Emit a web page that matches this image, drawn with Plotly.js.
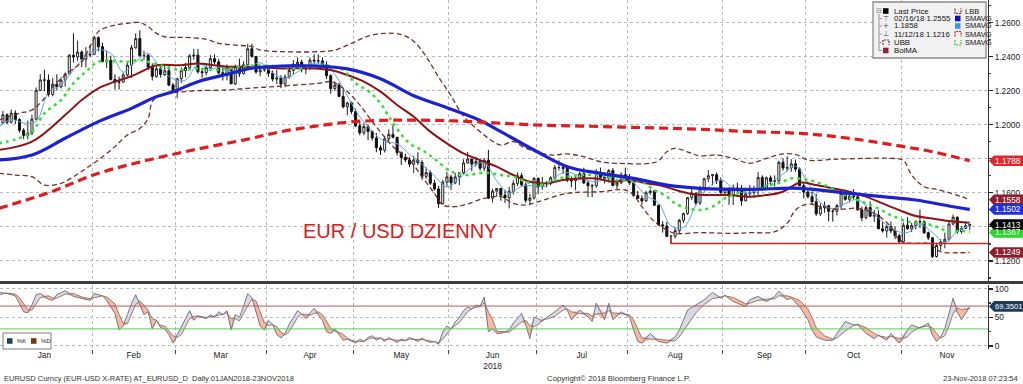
<!DOCTYPE html>
<html><head><meta charset="utf-8">
<script src="https://cdn.plot.ly/plotly-3.0.1.min.js"></script>
<style>html,body{margin:0;padding:0;background:#fff;}#chart{width:1023px;height:384px;}</style>
</head><body><div id="chart"></div>
<script>
// ---------- DATA (trading-day index 0 = 01 Jan 2018) ----------
const monthNames = ['Jan','Feb','Mar','Apr','May','Jun','Jul','Aug','Sep','Oct','Nov'];
const monthStart = [0,23,43,65,86,109,130,152,175,195,218];
const monthLen   = [23,20,22,21,23,21,22,23,20,23,22];
const yearLabel = '2018';

const open = [
1.2005,1.2010,1.2058,1.2014,1.2068,1.2030,1.1967,1.1937,1.1950,1.2033,1.2202,1.2263,1.2262,1.2178,1.2238,1.2222,1.2262,1.2298,1.2408,1.2398,1.2427,1.2385,1.2409,
1.2414,1.2512,1.2458,1.2371,1.2377,1.2266,1.2250,1.2250,1.2292,1.2350,1.2452,1.2506,1.2406,1.2408,1.2338,1.2284,1.2329,1.2295,1.2317,1.2233,
1.2194,1.2270,1.2318,1.2336,1.2405,1.2409,1.2311,1.2306,1.2336,1.2388,1.2369,1.2305,1.2288,1.2338,1.2240,1.2340,1.2300,1.2352,1.2446,1.2401,1.2310,1.2322,
1.2324,1.2302,1.2268,1.2275,1.2239,1.2281,1.2319,1.2356,1.2368,1.2326,1.2330,1.2379,1.2375,1.2375,1.2350,1.2288,1.2212,1.2233,1.2166,1.2105,1.2128,
1.2078,1.1993,1.1952,1.1989,1.1960,1.1922,1.1865,1.1850,1.1917,1.1943,1.1926,1.1836,1.1807,1.1793,1.1768,1.1792,1.1778,1.1696,1.1719,1.1656,1.1622,1.1536,1.1663,
1.1693,1.1658,1.1693,1.1717,1.1775,1.1798,1.1768,1.1784,1.1744,1.1791,1.1568,1.1609,1.1625,1.1586,1.1570,1.1608,1.1655,1.1700,1.1646,1.1555,1.1569,
1.1684,1.1635,1.1657,1.1655,1.1688,1.1748,1.1748,1.1743,1.1673,1.1670,1.1685,1.1712,1.1658,1.1641,1.1641,1.1720,1.1691,1.1684,1.1731,1.1643,1.1658,1.1705,
1.1691,1.1658,1.1583,1.1567,1.1552,1.1600,1.1610,1.1526,1.1411,1.1404,1.1343,1.1344,1.1377,1.1438,1.1477,1.1571,1.1597,1.1540,1.1623,1.1682,1.1700,1.1706,1.1670,
1.1601,1.1622,1.1583,1.1628,1.1624,1.1553,1.1594,1.1600,1.1625,1.1690,1.1625,1.1688,1.1667,1.1671,1.1779,1.1745,1.1747,1.1770,1.1739,1.1641,
1.1604,1.1577,1.1547,1.1476,1.1512,1.1524,1.1491,1.1491,1.1524,1.1596,1.1561,1.1580,1.1576,1.1500,1.1453,1.1513,1.1462,1.1469,1.1388,1.1375,1.1401,1.1376,1.1347,
1.1312,1.1409,1.1388,1.1407,1.1430,1.1429,1.1365,1.1335,1.1225,1.1290,1.1310,1.1327,1.1416,1.1456,1.1372,1.1390,1.1406];
const high = [
1.2025,1.2081,1.2066,1.2089,1.2084,1.2038,1.1980,1.2024,1.2059,1.2219,1.2297,1.2323,1.2296,1.2274,1.2296,1.2279,1.2307,1.2415,1.2537,1.2494,1.2437,1.2456,1.2469,
1.2523,1.2519,1.2482,1.2434,1.2406,1.2296,1.2283,1.2307,1.2369,1.2469,1.2537,1.2555,1.2435,1.2414,1.2361,1.2354,1.2346,1.2355,1.2354,1.2244,
1.2275,1.2336,1.2363,1.2414,1.2446,1.2446,1.2335,1.2350,1.2410,1.2413,1.2385,1.2337,1.2354,1.2344,1.2353,1.2388,1.2373,1.2476,1.2476,1.2404,1.2340,1.2339,
1.2346,1.2318,1.2323,1.2291,1.2295,1.2334,1.2380,1.2396,1.2382,1.2346,1.2396,1.2414,1.2413,1.2396,1.2372,1.2296,1.2255,1.2245,1.2210,1.2135,1.2136,
1.2094,1.2021,1.2009,1.2000,1.1966,1.1951,1.1880,1.1935,1.1973,1.1997,1.1928,1.1843,1.1829,1.1810,1.1816,1.1837,1.1791,1.1749,1.1731,1.1676,1.1640,1.1675,1.1723,
1.1705,1.1717,1.1718,1.1796,1.1840,1.1799,1.1810,1.1796,1.1805,1.1852,1.1624,1.1625,1.1629,1.1617,1.1635,1.1673,1.1720,1.1717,1.1661,1.1593,1.1692,
1.1691,1.1693,1.1667,1.1697,1.1763,1.1791,1.1769,1.1760,1.1695,1.1694,1.1722,1.1747,1.1670,1.1652,1.1738,1.1748,1.1719,1.1739,1.1745,1.1670,1.1720,1.1747,
1.1710,1.1662,1.1611,1.1584,1.1612,1.1620,1.1614,1.1530,1.1432,1.1430,1.1353,1.1397,1.1446,1.1483,1.1573,1.1623,1.1601,1.1640,1.1688,1.1733,1.1710,1.1719,1.1690,
1.1626,1.1634,1.1647,1.1660,1.1644,1.1608,1.1646,1.1641,1.1721,1.1702,1.1695,1.1701,1.1702,1.1788,1.1803,1.1815,1.1797,1.1795,1.1749,1.1655,
1.1622,1.1607,1.1594,1.1538,1.1548,1.1527,1.1502,1.1534,1.1608,1.1611,1.1599,1.1621,1.1580,1.1519,1.1527,1.1549,1.1499,1.1496,1.1431,1.1414,1.1431,1.1400,1.1358,
1.1425,1.1456,1.1423,1.1438,1.1500,1.1437,1.1372,1.1340,1.1305,1.1327,1.1366,1.1429,1.1472,1.1461,1.1403,1.1428,1.1416];
const low = [
1.1996,1.2004,1.2004,1.2007,1.2004,1.1954,1.1916,1.1915,1.1939,1.2025,1.2197,1.2197,1.2165,1.2167,1.2202,1.2213,1.2224,1.2298,1.2365,1.2373,1.2339,1.2336,1.2397,
1.2414,1.2432,1.2367,1.2334,1.2260,1.2207,1.2206,1.2248,1.2284,1.2274,1.2447,1.2402,1.2381,1.2322,1.2260,1.2275,1.2277,1.2286,1.2226,1.2187,
1.2155,1.2245,1.2278,1.2320,1.2382,1.2300,1.2275,1.2291,1.2323,1.2357,1.2297,1.2260,1.2261,1.2240,1.2233,1.2281,1.2294,1.2350,1.2394,1.2300,1.2285,1.2310,
1.2282,1.2254,1.2239,1.2215,1.2220,1.2270,1.2295,1.2338,1.2308,1.2297,1.2321,1.2347,1.2355,1.2338,1.2268,1.2183,1.2198,1.2164,1.2096,1.2055,1.2063,
1.1985,1.1938,1.1938,1.1910,1.1907,1.1838,1.1822,1.1836,1.1902,1.1920,1.1818,1.1763,1.1780,1.1750,1.1716,1.1763,1.1676,1.1681,1.1646,1.1613,1.1510,1.1530,1.1634,
1.1617,1.1650,1.1645,1.1707,1.1771,1.1727,1.1754,1.1730,1.1727,1.1563,1.1542,1.1576,1.1553,1.1540,1.1508,1.1589,1.1640,1.1634,1.1541,1.1527,1.1560,
1.1592,1.1618,1.1632,1.1643,1.1679,1.1730,1.1714,1.1662,1.1632,1.1615,1.1676,1.1650,1.1575,1.1574,1.1630,1.1684,1.1654,1.1660,1.1637,1.1620,1.1650,1.1683,
1.1646,1.1577,1.1563,1.1529,1.1545,1.1587,1.1526,1.1405,1.1366,1.1340,1.1301,1.1332,1.1359,1.1422,1.1470,1.1556,1.1528,1.1527,1.1608,1.1663,1.1644,1.1651,1.1586,
1.1588,1.1530,1.1528,1.1590,1.1524,1.1549,1.1571,1.1569,1.1586,1.1611,1.1621,1.1642,1.1636,1.1659,1.1730,1.1725,1.1723,1.1723,1.1640,1.1567,
1.1566,1.1527,1.1464,1.1463,1.1482,1.1432,1.1430,1.1466,1.1502,1.1553,1.1543,1.1560,1.1494,1.1432,1.1445,1.1456,1.1429,1.1387,1.1366,1.1336,1.1361,1.1327,1.1301,
1.1305,1.1383,1.1369,1.1384,1.1394,1.1357,1.1322,1.1216,1.1218,1.1260,1.1273,1.1316,1.1408,1.1358,1.1359,1.1385,1.1380];
const close = [
1.2010,1.2058,1.2014,1.2068,1.2030,1.1967,1.1937,1.1950,1.2033,1.2202,1.2263,1.2262,1.2178,1.2238,1.2222,1.2262,1.2298,1.2408,1.2398,1.2427,1.2385,1.2409,1.2414,
1.2512,1.2458,1.2371,1.2377,1.2266,1.2250,1.2250,1.2292,1.2350,1.2452,1.2506,1.2406,1.2408,1.2338,1.2284,1.2329,1.2295,1.2317,1.2233,1.2194,
1.2270,1.2318,1.2336,1.2405,1.2409,1.2311,1.2306,1.2336,1.2388,1.2369,1.2305,1.2288,1.2338,1.2240,1.2340,1.2300,1.2352,1.2446,1.2401,1.2310,1.2322,1.2324,
1.2302,1.2268,1.2275,1.2239,1.2281,1.2319,1.2356,1.2368,1.2326,1.2330,1.2379,1.2375,1.2375,1.2350,1.2288,1.2212,1.2233,1.2166,1.2105,1.2128,1.2078,
1.1993,1.1952,1.1989,1.1960,1.1922,1.1865,1.1850,1.1917,1.1943,1.1926,1.1836,1.1807,1.1793,1.1768,1.1792,1.1778,1.1696,1.1719,1.1656,1.1622,1.1536,1.1663,1.1693,
1.1658,1.1693,1.1717,1.1775,1.1798,1.1768,1.1784,1.1744,1.1791,1.1568,1.1609,1.1625,1.1586,1.1570,1.1608,1.1655,1.1700,1.1646,1.1555,1.1569,1.1684,
1.1635,1.1657,1.1655,1.1688,1.1748,1.1748,1.1743,1.1673,1.1670,1.1685,1.1712,1.1658,1.1641,1.1641,1.1720,1.1691,1.1684,1.1731,1.1643,1.1658,1.1705,1.1691,
1.1658,1.1583,1.1567,1.1552,1.1600,1.1610,1.1526,1.1411,1.1404,1.1343,1.1344,1.1377,1.1438,1.1477,1.1571,1.1597,1.1540,1.1623,1.1682,1.1700,1.1706,1.1670,1.1601,
1.1622,1.1583,1.1628,1.1624,1.1553,1.1594,1.1600,1.1625,1.1690,1.1625,1.1688,1.1667,1.1671,1.1779,1.1745,1.1747,1.1770,1.1739,1.1641,1.1604,
1.1577,1.1547,1.1476,1.1512,1.1524,1.1491,1.1491,1.1524,1.1596,1.1561,1.1580,1.1576,1.1500,1.1453,1.1513,1.1462,1.1469,1.1388,1.1375,1.1401,1.1376,1.1347,1.1312,
1.1409,1.1388,1.1407,1.1430,1.1429,1.1365,1.1335,1.1225,1.1290,1.1310,1.1327,1.1416,1.1456,1.1372,1.1390,1.1406,1.1413];

// 200-day SMA (red dashed)
const ma200X = [0,12,24,36,48,60,68,76,84,92,100,110,120,130,140,150,160,170,181,193,205,217,225,234];
const ma200  = [1.1508,1.1600,1.1714,1.1792,1.1857,1.1915,1.1959,1.1990,1.2015,1.2025,1.2027,1.2022,1.2010,1.1998,1.1992,1.1986,1.1980,1.1972,1.1959,1.1949,1.1920,1.1875,1.1841,1.1788];
// 50-day SMA (blue)
const ma50X = [0,8,16,24,32,38,42,48,56,60,68,76,84,92,100,108,116,121,129,137,145,153,161,169,181,193,205,213,221,229,234];
const ma50  = [1.1792,1.1822,1.1920,1.2018,1.2096,1.2165,1.2194,1.2253,1.2302,1.2328,1.2345,1.2345,1.2328,1.2270,1.2170,1.2100,1.2025,1.1959,1.1851,1.1753,1.1714,1.1684,1.1645,1.1626,1.1620,1.1626,1.1596,1.1577,1.1557,1.1522,1.1502];
// Bollinger middle (BolMA)
const bolX = [0,8,16,20,24,28,32,36,38,44,48,52,56,60,68,76,80,84,88,92,96,100,104,108,112,116,120,124,128,132,136,140,144,148,152,156,160,164,168,176,181,185,189,193,197,201,205,209,213,217,221,225,229,234];
const bolMA = [1.1851,1.1900,1.2057,1.2145,1.2214,1.2253,1.2286,1.2331,1.2350,1.2350,1.2360,1.2350,1.2341,1.2341,1.2331,1.2331,1.2321,1.2292,1.2253,1.2194,1.2116,1.2047,1.1959,1.1890,1.1831,1.1792,1.1753,1.1704,1.1665,1.1655,1.1675,1.1684,1.1684,1.1665,1.1675,1.1655,1.1640,1.1610,1.1590,1.1586,1.1577,1.1586,1.1606,1.1659,1.1645,1.1626,1.1606,1.1577,1.1537,1.1498,1.1463,1.1449,1.1434,1.1424];
// Upper band
const ubbX = [0,5,8,11,13,16,20,22,24,27,31,34,36,38,40,45,50,53,57,61,63,69,77,81,85,89,93,97,100,103,106,109,112,115,118,121,124,127,133,137,141,145,149,157,159,161,163,167,169,173,177,181,185,189,192,195,201,209,215,218,220,223,226,229,232,234];
const ubb  = [1.2027,1.2067,1.2086,1.2155,1.2223,1.2292,1.2370,1.2459,1.2547,1.2580,1.2596,1.2600,1.2576,1.2537,1.2517,1.2513,1.2502,1.2478,1.2468,1.2459,1.2439,1.2429,1.2429,1.2439,1.2478,1.2521,1.2537,1.2530,1.2490,1.2400,1.2280,1.2170,1.2050,1.1980,1.1920,1.1880,1.1900,1.1861,1.1822,1.1828,1.1812,1.1782,1.1773,1.1773,1.1788,1.1841,1.1861,1.1831,1.1816,1.1822,1.1802,1.1773,1.1802,1.1828,1.1825,1.1792,1.1796,1.1802,1.1802,1.1790,1.1704,1.1635,1.1620,1.1600,1.1577,1.1558];
// Lower band
const lbbX = [0,4,8,11,15,18,21,24,28,31,34,36,37,39,42,48,55,60,64,68,77,80,83,86,91,95,99,102,105,107,110,113,117,121,124,127,130,137,145,151,153,155,158,161,163,169,177,181,187,190,192,195,198,202,207,211,215,217,220,224,227,231,234];
const lbb  = [1.1714,1.1704,1.1694,1.1645,1.1655,1.1694,1.1743,1.1792,1.1871,1.1939,1.1978,1.2037,1.2135,1.2174,1.2188,1.2200,1.2204,1.2214,1.2220,1.2227,1.2243,1.2253,1.2214,1.2145,1.1988,1.1871,1.1792,1.1694,1.1596,1.1528,1.1518,1.1534,1.1567,1.1577,1.1537,1.1528,1.1547,1.1596,1.1606,1.1616,1.1586,1.1518,1.1430,1.1381,1.1361,1.1365,1.1361,1.1365,1.1371,1.1420,1.1498,1.1534,1.1518,1.1502,1.1508,1.1479,1.1400,1.1322,1.1302,1.1302,1.1253,1.1247,1.1249];
// Green dotted SMAVG
const grnX = [0,4,8,11,15,18,21,24,28,31,34,36,40,44,48,52,56,60,67,72,77,80,83,86,89,92,95,99,102,105,109,113,117,121,124,127,130,134,137,141,145,149,153,155,158,161,163,166,169,172,175,178,181,186,189,191,195,199,203,207,211,215,219,223,226,229,232,234];
const grn  = [1.1890,1.1914,1.1959,1.2067,1.2145,1.2243,1.2312,1.2370,1.2374,1.2370,1.2380,1.2370,1.2341,1.2321,1.2331,1.2321,1.2331,1.2345,1.2345,1.2331,1.2351,1.2345,1.2321,1.2243,1.2200,1.2125,1.2010,1.1890,1.1851,1.1800,1.1725,1.1704,1.1718,1.1704,1.1694,1.1665,1.1645,1.1675,1.1694,1.1704,1.1704,1.1675,1.1675,1.1665,1.1616,1.1577,1.1537,1.1508,1.1498,1.1518,1.1567,1.1596,1.1616,1.1645,1.1665,1.1684,1.1675,1.1645,1.1596,1.1557,1.1518,1.1469,1.1430,1.1420,1.1400,1.1371,1.1377,1.1367];
// Light blue short SMAVG
const sbX = [0,3,6,9,12,15,18,21,24,27,30,33,36,39,42,45,48,51,54,57,60,63,66,69,72,75,78,81,84,87,90,93,96,99,102,105,108,111,114,117,120,123,126,129,132,135,138,141,144,147,150,153,156,159,162,165,168,171,174,177,180,183,186,189,192,195,198,201,204,207,210,213,216,219,222,225,228,231,234];
const sb  = [1.1985,1.2030,1.2010,1.2018,1.2190,1.2233,1.2322,1.2405,1.2440,1.2420,1.2310,1.2370,1.2420,1.2330,1.2270,1.2262,1.2355,1.2330,1.2337,1.2302,1.2330,1.2364,1.2305,1.2273,1.2310,1.2352,1.2363,1.2296,1.2169,1.2046,1.1963,1.1901,1.1888,1.1826,1.1767,1.1699,1.1634,1.1684,1.1750,1.1777,1.1671,1.1598,1.1637,1.1642,1.1640,1.1707,1.1716,1.1680,1.1664,1.1693,1.1688,1.1658,1.1583,1.1541,1.1406,1.1396,1.1525,1.1629,1.1676,1.1626,1.1596,1.1618,1.1659,1.1710,1.1756,1.1660,1.1543,1.1506,1.1537,1.1559,1.1496,1.1429,1.1378,1.1366,1.1413,1.1367,1.1306,1.1374,1.1407];
// support line from Aug 15 low
const supportX = [162,162,238.4];
const supportY = [1.1345,1.1301,1.1301];

// Stochastic
const stochX = [0,2,4,5,6,7,8,9,10,12,13,14,16,18,20,22,23,25,26,28,29,30,31,32,33,34,35,36,37,38,39,40,41,42,43,44,45,46,47,48,50,51,52,53,54,55,56,57,58,59,60,61,62,63,64,65,66,67,68,69,70,71,72,73,74,75,76,77,78,79,80,81,82,83,84,85,86,87,88,89,90,91,92,93,94,95,96,97,98,99,100,101,102,103,104,105,106,107,108,109,110,111,112,113,114,115,116,117,118,119,120,121,123,124,126,127,128,129,130,131,132,134,136,137,138,140,142,143,144,146,147,148,150,152,153,154,155,157,159,161,163,164,166,168,170,172,174,175,177,178,180,181,183,185,187,188,190,191,193,195,196,197,199,201,202,204,206,207,209,211,212,214,215,217,219,220,222,224,225,226,227,228,229,230,231,232,234];
const stochK = [94,92,88,75,60,58,72,90,92,82,80,90,97,87,84,80,92,88,80,57,28,35,55,75,90,72,55,60,30,45,32,30,20,5,20,35,48,62,45,52,48,55,50,60,55,62,28,55,50,70,92,85,60,35,28,45,38,20,14,22,38,50,62,56,48,58,66,55,45,25,22,30,20,10,12,8,5,12,8,15,18,10,14,8,15,10,6,12,10,15,12,8,14,9,6,8,3,25,35,30,42,50,62,68,65,72,70,86,25,30,22,22,28,40,57,37,13,51,48,43,50,60,72,63,46,63,51,43,75,46,75,46,60,51,28,8,5,22,8,5,16,28,63,72,81,94,84,89,78,75,69,81,87,78,87,96,81,84,69,46,28,16,10,10,22,43,37,37,22,13,19,10,22,5,28,37,31,40,19,8,16,31,57,84,60,46,69.3501];
const stochD = [90,93,91,85,74,64,63,73,85,88,84,84,91,92,86,83,85,88,86,74,55,40,39,55,73,79,72,62,48,45,36,35,27,18,15,20,34,48,52,53,50,51,52,54,56,58,48,48,44,58,70,82,79,60,41,36,37,34,24,19,25,37,50,56,55,54,57,60,55,42,31,26,24,20,14,10,8,8,8,12,14,14,14,11,12,11,10,9,9,12,12,12,11,10,9,8,6,12,21,30,36,41,51,60,65,68,69,76,60,47,26,25,24,30,42,45,36,34,37,47,47,52,63,65,60,57,57,52,56,58,62,58,57,55,46,29,14,12,12,10,9,16,36,58,73,83,86,88,85,81,74,75,80,82,83,88,88,86,80,65,50,32,18,12,14,26,36,38,32,22,18,15,17,13,16,24,33,35,32,22,14,18,35,57,67,64,66];
const stochLevels = {upper:70, lower:30};

// ---------- helpers for layout decoration (pixel -> paper) ----------
const PW = 988, PH = 349;
const px = x => x / PW;
const py = y => (PH - y) / PH;
const last = a => a[a.length - 1];

const idx = close.map((_, i) => i);
const boundaries = monthStart.slice(1).map(s => s - 0.5);
const mids = monthStart.map((s, i) => s - 0.5 + monthLen[i] / 2);
const monthText = monthNames.map(m => m === 'Jun' ? 'Jun<br>' + yearLabel : m);
const priceTicks = [1.12,1.14,1.16,1.18,1.20,1.22,1.24,1.26];
const hiddenTicks = [1.14,1.18];   // covered by value tags in the reference
const priceMinor = [1.11,1.13,1.15,1.17,1.19,1.21,1.23,1.25,1.27];

const kHi = stochK.map((k, i) => Math.max(k, stochD[i]));
const kLo = stochK.map((k, i) => Math.min(k, stochD[i]));

const FONT = 'Liberation Sans, Arial, sans-serif';

const traces = [
  {type:'candlestick', x: idx, open, high, low, close, xaxis:'x', yaxis:'y',
   increasing:{line:{color:'#222', width:1}, fillcolor:'#ffffff'},
   decreasing:{line:{color:'#111', width:1}, fillcolor:'#111111'},
   hoverinfo:'skip', showlegend:false},
  {type:'scatter', mode:'lines', x: sbX, y: sb, line:{color:'#5aa6e6', width:1, shape:'spline'}, hoverinfo:'skip'},
  {type:'scatter', mode:'lines', x: ubbX, y: ubb, line:{color:'#7a2c2c', width:1.3, dash:'5px,3px', shape:'spline'}, hoverinfo:'skip'},
  {type:'scatter', mode:'lines', x: lbbX, y: lbb, line:{color:'#7a2c2c', width:1.3, dash:'5px,3px', shape:'spline'}, hoverinfo:'skip'},
  {type:'scatter', mode:'lines', x: bolX, y: bolMA, line:{color:'#8c1414', width:2, shape:'spline'}, hoverinfo:'skip'},
  {type:'scatter', mode:'lines', x: grnX, y: grn, line:{color:'#33dd33', width:2.5, dash:'3px,4px', shape:'spline'}, hoverinfo:'skip'},
  {type:'scatter', mode:'lines', x: ma50X, y: ma50, line:{color:'#1c22d0', width:3.2, shape:'spline'}, hoverinfo:'skip'},
  {type:'scatter', mode:'lines', x: ma200X, y: ma200, line:{color:'#e01c1c', width:3.2, dash:'9px,5px', shape:'spline'}, hoverinfo:'skip'},
  {type:'scatter', mode:'lines', x: supportX, y: supportY, line:{color:'#d42424', width:1.5}, hoverinfo:'skip'},
  // stochastic fills
  {type:'scatter', mode:'lines', x: stochX, y: stochD, xaxis:'x2', yaxis:'y2', line:{width:0, color:'rgba(0,0,0,0)'}, hoverinfo:'skip'},
  {type:'scatter', mode:'lines', x: stochX, y: kHi, xaxis:'x2', yaxis:'y2', fill:'tonexty', fillcolor:'rgba(208,212,222,0.85)', line:{width:0, color:'rgba(0,0,0,0)'}, hoverinfo:'skip'},
  {type:'scatter', mode:'lines', x: stochX, y: stochD, xaxis:'x2', yaxis:'y2', line:{width:0, color:'rgba(0,0,0,0)'}, hoverinfo:'skip'},
  {type:'scatter', mode:'lines', x: stochX, y: kLo, xaxis:'x2', yaxis:'y2', fill:'tonexty', fillcolor:'rgba(248,176,150,0.9)', line:{width:0, color:'rgba(0,0,0,0)'}, hoverinfo:'skip'},
  {type:'scatter', mode:'lines', x: stochX, y: stochD, xaxis:'x2', yaxis:'y2', line:{color:'#9a6a5a', width:0.9}, hoverinfo:'skip'},
  {type:'scatter', mode:'lines', x: stochX, y: stochK, xaxis:'x2', yaxis:'y2', line:{color:'#646b7a', width:0.9}, hoverinfo:'skip'}
];

const shapes = [];
const annotations = [];

// separator between panels
shapes.push({type:'line', xref:'paper', yref:'paper', x0:0, x1:1023/PW, y0:py(282.5), y1:py(282.5), line:{color:'#3c3c3c', width:3}});
// stochastic level lines
shapes.push({type:'line', xref:'paper', yref:'y2', x0:0, x1:1, y0:stochLevels.upper, y1:stochLevels.upper, line:{color:'#b85a5a', width:1}});
shapes.push({type:'line', xref:'paper', yref:'y2', x0:0, x1:1, y0:stochLevels.lower, y1:stochLevels.lower, line:{color:'#5ccc5c', width:1}});

// right-hand value tags
function tag(v, bg, yref, h, txtColor, size) {
  shapes.push({type:'path', xref:'paper', yref:yref, fillcolor:bg, line:{width:0},
    path:`M ${px(989)},${v} L ${px(994)},${v+h} L ${px(1023)},${v+h} L ${px(1023)},${v-h} L ${px(994)},${v-h} Z`});
  annotations.push({xref:'paper', yref:yref, x:px(1008), y:v, xanchor:'center', yanchor:'middle', showarrow:false,
    text: v.toFixed(4), font:{family:FONT, size:size, color:txtColor}});
}
const hMain = 0.0031, hSt = 9.4;
tag(last(ma200), '#e3262d', 'y', hMain, '#fff', 8.3);
tag(last(ubb), '#8e1d2d', 'y', hMain, '#fff', 8.3);
tag(last(ma50), '#2230dc', 'y', hMain, '#fff', 8.3);
tag(last(grn), '#2fd42f', 'y', hMain, '#eaffea', 8.3);
tag(last(close), '#000000', 'y', hMain, '#fff', 8.3);
tag(last(lbb), '#8e1d2d', 'y', hMain, '#fff', 8.3);
tag(last(stochK), '#1e3d5c', 'y2', hSt, '#fff', 7.6);

// main legend box
shapes.push({type:'rect', xref:'paper', yref:'paper', x0:px(873), x1:px(986), y0:py(58), y1:py(2), fillcolor:'#f1f1f1', line:{color:'#8a8a8a', width:1.3}});
const rowsY = [11, 18.5, 26, 34, 42.5, 50.5];
const leftTxt = ['Last Price', '02/16/18 1.2555', '1.1858', '11/12/18 1.1216', 'UBB', 'BolMA'];
const rightTxt = ['LBB', 'SMAVG', 'SMAVG', 'SMAVG', 'SMAVG'];
leftTxt.forEach((t, i) => annotations.push({xref:'paper', yref:'paper', x:px(892), y:py(rowsY[i]), xanchor:'left', yanchor:'middle', showarrow:false, text:t, font:{family:FONT, size:7.8, color:'#111'}}));
rightTxt.forEach((t, i) => annotations.push({xref:'paper', yref:'paper', x:px(963), y:py(rowsY[i]), xanchor:'left', yanchor:'middle', showarrow:false, text:t, font:{family:FONT, size:7.5, color:'#111'}}));
['⊤','+','⊥'].forEach((s, i) => annotations.push({xref:'paper', yref:'paper', x:px(886), y:py(rowsY[i+1]), xanchor:'center', yanchor:'middle', showarrow:false, text:s, font:{family:'DejaVu Sans', size:7, color:'#444'}}));
annotations.push({xref:'paper', yref:'paper', x:px(879), y:py(11), xanchor:'center', yanchor:'middle', showarrow:false, text:'⊟', font:{family:'DejaVu Sans', size:7, color:'#777'}});
shapes.push({type:'line', xref:'paper', yref:'paper', x0:px(879), x1:px(879), y0:py(14), y1:py(51), line:{color:'#999', width:1}});
rowsY.slice(1).forEach(y => shapes.push({type:'line', xref:'paper', yref:'paper', x0:px(879), x1:px(882), y0:py(y), y1:py(y), line:{color:'#999', width:1}}));
function sq(x, y, c) { shapes.push({type:'rect', xref:'paper', yref:'paper', x0:px(x), x1:px(x+5.5), y0:py(y+2.8), y1:py(y-2.8), fillcolor:c, line:{width:0}}); }
function bracket(x, y, c, up) {
  const a = up ? y-2.5 : y+2.5, b = up ? y+2.5 : y-2.5;
  shapes.push({type:'path', xref:'paper', yref:'paper', line:{color:c, width:1.2, dash:'2px,1px'},
    path:`M ${px(x)},${py(b)} L ${px(x)},${py(a)} L ${px(x+6)},${py(a)} L ${px(x+6)},${py(b)}`});
}
sq(883, rowsY[0], '#000');
bracket(883, rowsY[4], '#7a2c2c', true);
sq(883, rowsY[5], '#9b1b30');
bracket(955, rowsY[0], '#7a2c2c', false);
sq(955, rowsY[1], '#1010d0');
sq(955, rowsY[2], '#3399ee');
bracket(955, rowsY[3], '#e01c1c', true);
bracket(955, rowsY[4], '#33cc33', false);

// stochastic legend
shapes.push({type:'rect', xref:'paper', yref:'paper', x0:px(3), x1:px(51), y0:py(349), y1:py(333), fillcolor:'#ffffff', line:{color:'#7a7a7a', width:1}});
sq(7, 341, '#1f3f66');
sq(31, 341, '#7b3510');
annotations.push({xref:'paper', yref:'paper', x:px(14.5), y:py(341), xanchor:'left', yanchor:'middle', showarrow:false, text:'%K', font:{family:FONT, size:6, color:'#222'}});
annotations.push({xref:'paper', yref:'paper', x:px(38.5), y:py(341), xanchor:'left', yanchor:'middle', showarrow:false, text:'%D', font:{family:FONT, size:6, color:'#222'}});

// chart caption
annotations.push({xref:'paper', yref:'paper', x:px(400), y:py(231), xanchor:'center', yanchor:'middle', showarrow:false, text:'EUR / USD DZIENNY', font:{family:FONT, size:20, color:'#d42020'}});

// footer
annotations.push({xref:'paper', yref:'paper', x:px(2), y:py(378), xanchor:'left', yanchor:'middle', showarrow:false, text:'EURUSD Curncy (EUR-USD X-RATE) AT_EURUSD_D&nbsp;&nbsp;Daily 01JAN2018-23NOV2018', font:{family:FONT, size:7.5, color:'#333'}});
annotations.push({xref:'paper', yref:'paper', x:px(618), y:py(378), xanchor:'center', yanchor:'middle', showarrow:false, text:'Copyright© 2018 Bloomberg Finance L.P.', font:{family:FONT, size:7.8, color:'#333'}});
annotations.push({xref:'paper', yref:'paper', x:px(1020), y:py(378), xanchor:'right', yanchor:'middle', showarrow:false, text:'23-Nov-2018 07:23:54', font:{family:FONT, size:7.5, color:'#333'}});

const gridStyle = {gridcolor:'#b8b8b8', griddash:'dot', gridwidth:1};

const layout = {
  width:1023, height:384,
  margin:{l:0, r:35, t:0, b:35, pad:0},
  paper_bgcolor:'#ffffff', plot_bgcolor:'#ffffff',
  showlegend:false, hovermode:false, dragmode:false,
  font:{family:FONT, size:8, color:'#1a1a1a'},
  xaxis:{domain:[0,1], anchor:'y', range:[0.3, 238.4], showticklabels:false, tickmode:'array', tickvals:[], showgrid:false, zeroline:false,
    rangeslider:{visible:false}, showline:false,
    minor:Object.assign({tickmode:'array', tickvals:boundaries, showgrid:true, ticks:''}, gridStyle)},
  xaxis2:{domain:[0,1], anchor:'y2', matches:'x', range:[0.3, 238.4], tickmode:'array', tickvals:mids, ticktext:monthText, ticks:'', showgrid:false, zeroline:false, showline:false,
    tickfont:{family:FONT, size:8.3, color:'#1a1a1a'},
    minor:Object.assign({tickmode:'array', tickvals:boundaries, showgrid:true, ticks:'outside', ticklen:4, tickcolor:'#444', tickwidth:1}, gridStyle)},
  yaxis:Object.assign({domain:[py(281), 1], anchor:'x', side:'right', range:[1.1081, 1.2733], tickmode:'array', tickvals:priceTicks,
    ticktext:priceTicks.map(v => hiddenTicks.includes(v) ? '' : v.toFixed(4)),
    showgrid:true, zeroline:false, ticks:'outside', ticklen:4, tickwidth:1.5, tickcolor:'#222', showline:true, linecolor:'#333', linewidth:1,
    tickfont:{family:FONT, size:8.3, color:'#1a1a1a'},
    minor:{tickmode:'array', tickvals:priceMinor, ticks:'outside', ticklen:2, tickcolor:'#444', showgrid:false}}, gridStyle),
  yaxis2:Object.assign({domain:[0, py(285)], anchor:'x2', side:'right', range:[-5.3, 107], tickmode:'array', tickvals:[0,50,100],
    showgrid:true, zeroline:false, ticks:'outside', ticklen:4, tickwidth:1.5, tickcolor:'#222', showline:true, linecolor:'#333', linewidth:1,
    tickfont:{family:FONT, size:8.3, color:'#1a1a1a'},
    minor:{tickmode:'array', tickvals:[25,75], ticks:'outside', ticklen:2, tickcolor:'#444', showgrid:false}}, gridStyle),
  shapes, annotations
};

Plotly.newPlot('chart', traces, layout, {displayModeBar:false, staticPlot:true});
</script>
</body></html>
